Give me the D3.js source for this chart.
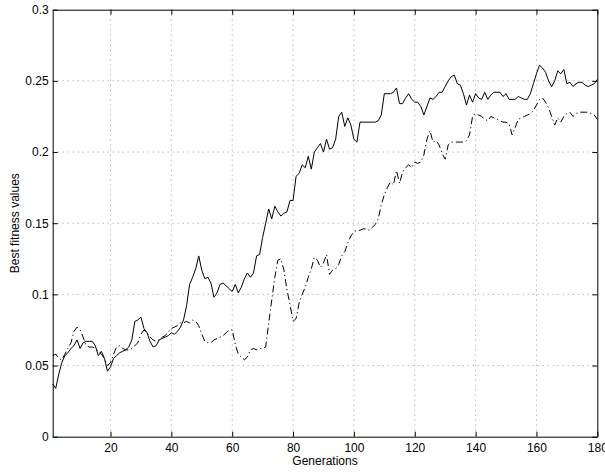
<!DOCTYPE html>
<html>
<head>
<meta charset="utf-8">
<script src="https://cdn.jsdelivr.net/npm/d3@7"></script>
<style>
  html, body { margin: 0; padding: 0; background: #fff; }
  svg { display: block; }
  text { font-family: "Liberation Sans", Arial, Helvetica, sans-serif; }
</style>
</head>
<body>
<svg id="chart" width="605" height="475"></svg>
<script>
// ---- data ----
const generations = d3.range(1, 181);

const solidSeries = [
  0.037,0.034,0.044,0.052,0.057,0.059,0.062,0.064,0.068,0.062,
  0.066,0.067,0.067,0.067,0.064,0.057,0.060,0.055,0.046,0.049,
  0.055,0.057,0.059,0.060,0.061,0.063,0.068,0.081,0.082,0.084,
  0.076,0.073,0.067,0.063,0.064,0.068,0.069,0.070,0.071,0.073,
  0.072,0.074,0.077,0.082,0.092,0.107,0.112,0.118,0.127,0.117,
  0.111,0.112,0.108,0.098,0.101,0.107,0.108,0.106,0.104,0.102,
  0.107,0.101,0.105,0.111,0.115,0.112,0.115,0.127,0.128,0.140,
  0.150,0.160,0.153,0.162,0.158,0.155,0.157,0.158,0.166,0.166,
  0.183,0.185,0.191,0.189,0.197,0.188,0.200,0.203,0.206,0.200,
  0.209,0.202,0.203,0.209,0.225,0.228,0.218,0.224,0.219,0.209,
  0.207,0.221,0.221,0.221,0.221,0.221,0.221,0.222,0.226,0.241,
  0.241,0.241,0.242,0.245,0.234,0.234,0.238,0.241,0.237,0.235,
  0.235,0.232,0.226,0.232,0.238,0.237,0.239,0.242,0.242,0.246,
  0.250,0.253,0.254,0.248,0.247,0.241,0.233,0.240,0.235,0.241,
  0.238,0.237,0.242,0.237,0.240,0.242,0.242,0.242,0.239,0.241,
  0.237,0.237,0.237,0.239,0.238,0.237,0.237,0.241,0.248,0.255,
  0.261,0.259,0.256,0.250,0.246,0.250,0.257,0.255,0.258,0.248,
  0.249,0.246,0.248,0.249,0.249,0.247,0.246,0.247,0.248,0.251
];

const dashDotSeries = [
  0.057,0.058,0.055,0.054,0.058,0.062,0.066,0.074,0.077,0.075,
  0.070,0.064,0.063,0.063,0.062,0.060,0.058,0.055,0.050,0.052,
  0.058,0.063,0.064,0.062,0.061,0.061,0.062,0.064,0.066,0.072,
  0.075,0.073,0.070,0.068,0.067,0.068,0.070,0.071,0.074,0.076,
  0.077,0.078,0.080,0.080,0.081,0.080,0.082,0.081,0.078,0.072,
  0.067,0.066,0.066,0.068,0.069,0.070,0.071,0.073,0.075,0.075,
  0.065,0.058,0.056,0.054,0.056,0.061,0.062,0.061,0.062,0.062,
  0.063,0.080,0.096,0.112,0.124,0.125,0.117,0.103,0.093,0.081,
  0.083,0.094,0.100,0.105,0.112,0.118,0.126,0.124,0.119,0.122,
  0.128,0.114,0.117,0.118,0.121,0.127,0.130,0.136,0.141,0.144,
  0.145,0.145,0.146,0.146,0.145,0.147,0.149,0.153,0.163,0.170,
  0.175,0.179,0.177,0.187,0.178,0.186,0.189,0.191,0.189,0.193,
  0.192,0.193,0.198,0.209,0.215,0.207,0.208,0.205,0.199,0.195,
  0.205,0.207,0.207,0.207,0.207,0.207,0.208,0.212,0.225,0.227,
  0.226,0.225,0.223,0.222,0.225,0.224,0.223,0.222,0.221,0.221,
  0.220,0.212,0.217,0.223,0.224,0.225,0.226,0.227,0.229,0.233,
  0.237,0.238,0.235,0.231,0.225,0.219,0.224,0.221,0.225,0.227,
  0.228,0.225,0.227,0.228,0.228,0.228,0.228,0.227,0.226,0.223
];

const xTicks = [20, 40, 60, 80, 100, 120, 140, 160, 180];
const yTicks = [0, 0.05, 0.1, 0.15, 0.2, 0.25, 0.3];
const xTickLabels = ["20","40","60","80","100","120","140","160","180"];
const yTickLabels = ["0","0.05","0.1","0.15","0.2","0.25","0.3"];
const xLabel = "Generations";
const yLabel = "Best fitness values";

// ---- layout ----
const L = 52.7, R = 597.3, T = 9.7, B = 436.7;
const svg = d3.select("#chart");

const x = d3.scaleLinear().domain([1, 180]).range([L, R]);
const y = d3.scaleLinear().domain([0, 0.3]).range([B, T]);

// grid
const grid = svg.append("g").attr("class", "grid");
grid.selectAll("line.vg").data(xTicks.filter(d => d < 180)).enter().append("line")
  .attr("x1", d => x(d)).attr("x2", d => x(d)).attr("y1", T).attr("y2", B)
  .attr("stroke", "#808080").attr("stroke-width", 0.8).attr("stroke-dasharray", "1,4");
grid.selectAll("line.hg").data(yTicks.filter(d => d > 0 && d < 0.3)).enter().append("line")
  .attr("y1", d => y(d)).attr("y2", d => y(d)).attr("x1", L).attr("x2", R)
  .attr("stroke", "#808080").attr("stroke-width", 0.8).attr("stroke-dasharray", "1,4");

// lines
const line = d3.line().x((d, i) => x(generations[i])).y(d => y(d));
svg.append("path").datum(solidSeries).attr("d", line)
  .attr("fill", "none").attr("stroke", "#000").attr("stroke-width", 1);
svg.append("path").datum(dashDotSeries).attr("d", line)
  .attr("fill", "none").attr("stroke", "#000").attr("stroke-width", 1)
  .attr("stroke-dasharray", "7,3,1.2,3");

// axes with inward ticks
const fmtX = (d, i) => xTickLabels[i];
const fmtY = (d, i) => yTickLabels[i];
const axB = svg.append("g").attr("transform", `translate(0,${B})`)
  .call(d3.axisBottom(x).tickValues(xTicks).tickFormat(fmtX).tickSizeInner(-5).tickSizeOuter(0).tickPadding(6.5));
const axT = svg.append("g").attr("transform", `translate(0,${T})`)
  .call(d3.axisTop(x).tickValues(xTicks).tickFormat("").tickSizeInner(-5).tickSizeOuter(0));
const axL = svg.append("g").attr("transform", `translate(${L},0)`)
  .call(d3.axisLeft(y).tickValues(yTicks).tickFormat(fmtY).tickSizeInner(-5).tickSizeOuter(0).tickPadding(4));
const axR = svg.append("g").attr("transform", `translate(${R},0)`)
  .call(d3.axisRight(y).tickValues(yTicks).tickFormat("").tickSizeInner(-5).tickSizeOuter(0));

[axB, axT, axL, axR].forEach(a => {
  a.selectAll("path.domain").attr("stroke", "#000").attr("stroke-width", 1);
  a.selectAll(".tick line").attr("stroke", "#000").attr("stroke-width", 1);
  a.selectAll("text").attr("font-size", 12).attr("fill", "#000")
    .attr("font-family", '"Liberation Sans", Arial, sans-serif');
});

// axis titles
svg.append("text").attr("x", (L + R) / 2).attr("y", 465)
  .attr("text-anchor", "middle").attr("font-size", 12).text(xLabel);
svg.append("text").attr("transform", `translate(19,${(T + B) / 2}) rotate(-90)`)
  .attr("text-anchor", "middle").attr("font-size", 12).text(yLabel);
</script>
</body>
</html>
